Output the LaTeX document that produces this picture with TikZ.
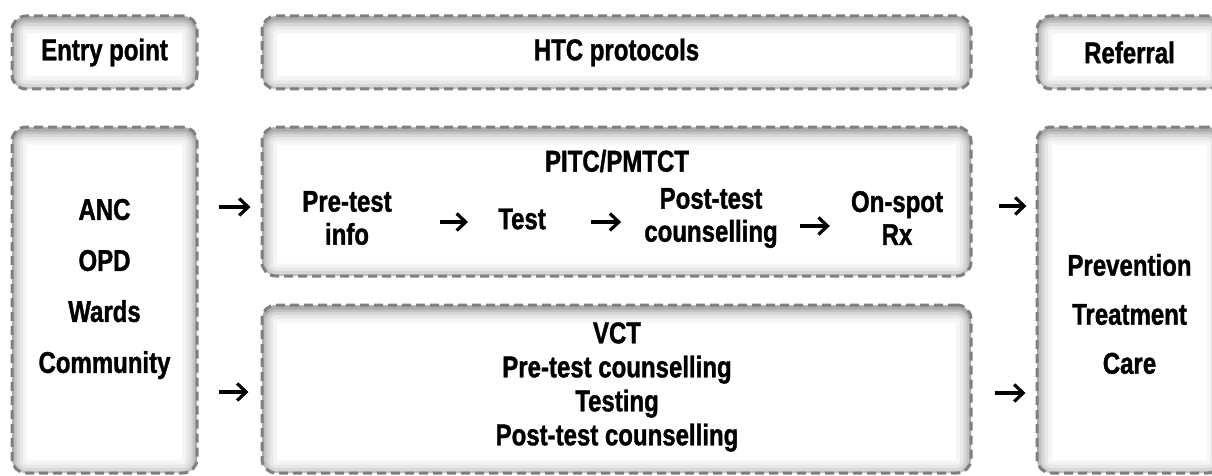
\documentclass[tikz,border=0pt]{standalone}
\usepackage{fontspec}
\setmainfont{Liberation Sans}[FakeStretch=0.8, BoldFeatures={FakeBold=1.2}]
\usetikzlibrary{arrows.meta,calc}

\definecolor{dashgray}{HTML}{7F7F7F}

\tikzset{
  % dashed rounded panel with a soft inner shadow along its edges
  panel/.style={
    draw=dashgray, line width=3pt, dash pattern=on 9pt off 5pt,
    rounded corners=14pt, fill=white, inner sep=0pt,
    path picture={
      \foreach \w/\o in {30/0.04,22/0.05,15/0.07,9/0.09,4/0.12}{
        \draw[solid, line width=\w pt, black, opacity=\o, rounded corners=14pt]
          ([yshift=-2.5pt]path picture bounding box.south west)
          rectangle ([yshift=-2.5pt]path picture bounding box.north east);
      }
    }
  },
  label/.style={font=\bfseries\fontsize{30}{32}\selectfont, align=center, inner sep=0pt},
  arr/.style={line width=3.2pt, -{Straight Barb[length=9pt,width=17pt]}},
}

\begin{document}
\begin{tikzpicture}[x=1pt,y=1pt]
\useasboundingbox (0,0) rectangle (1212,475);
\clip (0,0) rectangle (1212,475);

% header row
\node[panel, label, minimum width=185pt, minimum height=73pt] (entryhdr) at (104.5,422.5) {Entry point};
\node[panel, label, minimum width=709pt, minimum height=73pt] (htc) at (616.5,422.5) {HTC protocols};
\node[panel, label, minimum width=185pt, minimum height=73pt] (refhdr) at (1129.5,422.5) {Referral};

% main panels
\node[panel, minimum width=185pt, minimum height=346pt] (entry) at (104.5,175) {};
\node[panel, minimum width=709pt, minimum height=149pt] (pitc) at (616.5,273.5) {};
\node[panel, minimum width=709pt, minimum height=168pt] (vct) at (616.5,86) {};
\node[panel, minimum width=185pt, minimum height=346pt] (ref) at (1129.5,175) {};

% entry points
\node[label, font=\bfseries\fontsize{30}{51}\selectfont] (entrylist) at (104.5,186) {ANC\\OPD\\Wards\\Community};

% referral outcomes
\node[label, font=\bfseries\fontsize{30}{49}\selectfont] (reflist) at (1129.5,161) {Prevention\\Treatment\\Care};

% provider-initiated pathway
\node[label] (pitchdr) at (617,314) {PITC/PMTCT};
\node[label, font=\bfseries\fontsize{30}{33}\selectfont] (pretest) at (347,257) {Pre-test\\info};
\node[label] (test) at (522,256) {Test};
\node[label, font=\bfseries\fontsize{30}{33}\selectfont] (post) at (711,257) {Post-test\\counselling};
\node[label, font=\bfseries\fontsize{30}{33}\selectfont] (onspot) at (897,257) {On-spot\\Rx};

% client-initiated pathway
\node[label, font=\bfseries\fontsize{30}{34}\selectfont] (vcttext) at (617,88)
  {VCT\\Pre-test counselling\\Testing\\Post-test counselling};

% flow between panels
\draw[arr, shorten <=20pt, shorten >=10pt] ([yshift=-5.5pt]pitc.west -| entry.east) -- ([yshift=-5.5pt]pitc.west);
\draw[arr, shorten <=20pt, shorten >=12pt] ([yshift=-3pt]vct.west -| entry.east) -- ([yshift=-3pt]vct.west);
\draw[arr, shorten <=26pt, shorten >=9pt] ([yshift=-4.5pt]pitc.east) -- ([yshift=-4.5pt]pitc.east -| ref.west);
\draw[arr, shorten <=22pt, shorten >=10pt] ([yshift=-4pt]vct.east) -- ([yshift=-4pt]vct.east -| ref.west);

% flow within PITC/PMTCT
\draw[arr, shorten <=48pt, shorten >=30pt] ([yshift=-4pt]pretest.east) -- ([yshift=-4pt]pretest.east -| test.west);
\draw[arr, shorten <=45pt, shorten >=23pt] ([yshift=-3pt]test.east) -- ([yshift=-3pt]test.east -| post.west);
\draw[arr, shorten <=22pt, shorten >=21pt] ([yshift=-8pt]post.east) -- ([yshift=-8pt]post.east -| onspot.west);
\end{tikzpicture}
\end{document}
